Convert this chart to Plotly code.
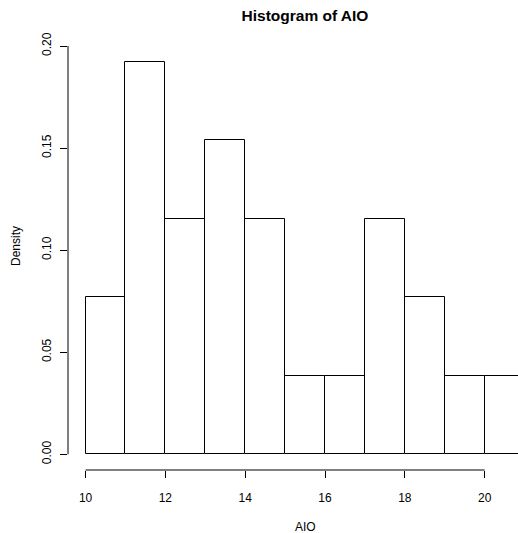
import plotly.graph_objects as go

# Data
breaks = [10, 11, 12, 13, 14, 15, 16, 17, 18, 19, 20, 21]
counts = [2, 5, 3, 4, 3, 1, 1, 3, 2, 1, 1]
n_total = sum(counts)
density = [c / (n_total * (breaks[i + 1] - breaks[i])) for i, c in enumerate(counts)]
mids = [(breaks[i] + breaks[i + 1]) / 2 for i in range(len(counts))]
widths = [breaks[i + 1] - breaks[i] for i in range(len(counts))]

x_ticks = [10, 12, 14, 16, 18, 20]
y_ticks = [0.00, 0.05, 0.10, 0.15, 0.20]

W, H = 518, 533
ml, mr, mt, mb = 68, 0, 46, 63

# R-style 4% extension of ranges
xr0 = breaks[0] - 0.04 * (breaks[-1] - breaks[0])
x_full_r = breaks[-1] + 0.04 * (breaks[-1] - breaks[0])
full_width_px = 542.5 - 68.4
unit_px = full_width_px / (x_full_r - xr0)
xr1 = xr0 + (W - ml - mr) / unit_px  # chart clipped at window edge

ymax_data = max(density)
yr0 = 0 - 0.04 * ymax_data
yr1 = ymax_data + 0.04 * ymax_data

font = "Liberation Sans, Arial, Helvetica, sans-serif"

fig = go.Figure()
fig.add_trace(go.Bar(
    x=mids, y=density, width=widths,
    marker=dict(color="white", line=dict(color="black", width=1)),
    showlegend=False, hoverinfo="skip",
))

def xp(v):
    return (v - xr0) / (xr1 - xr0)

def yp(v):
    return (v - yr0) / (yr1 - yr0)

shapes = [
    dict(type="line", xref="paper", yref="paper",
         x0=xp(x_ticks[0]), x1=xp(x_ticks[-1]), y0=0, y1=0,
         line=dict(color="black", width=1)),
    dict(type="line", xref="paper", yref="paper",
         x0=0, x1=0, y0=yp(y_ticks[0]), y1=yp(y_ticks[-1]),
         line=dict(color="black", width=1)),
]

fig.update_layout(
    width=W, height=H,
    margin=dict(l=ml, r=mr, t=mt, b=mb),
    paper_bgcolor="white", plot_bgcolor="white",
    bargap=0,
    font=dict(family=font, size=12, color="black"),
    shapes=shapes,
    title=dict(text="<b>Histogram of AIO</b>", font=dict(size=15.5, family=font, color="black"),
               xref="paper", x=(305 - ml) / (W - ml - mr), xanchor="center",
               yref="container", y=1 - 16 / H, yanchor="middle"),
    xaxis=dict(range=[xr0, xr1], showgrid=False, zeroline=False, showline=False,
               tickmode="array", tickvals=x_ticks, ticktext=[str(v) for v in x_ticks],
               ticks="outside", ticklen=7, tickwidth=1, tickcolor="black",
               ticklabelstandoff=10, tickfont=dict(size=12, color="black")),
    yaxis=dict(range=[yr0, yr1], showgrid=False, zeroline=False, showline=False,
               tickmode="array", tickvals=y_ticks, ticktext=[f"{v:.2f}" for v in y_ticks],
               ticks="outside", ticklen=7, tickwidth=1, tickcolor="black",
               tickangle=-90, ticklabelstandoff=4, tickfont=dict(size=12, color="black")),
    annotations=[
        dict(text="AIO", xref="paper", yref="paper",
             x=(305 - ml) / (W - ml - mr), y=-(527 - (H - mb)) / (H - mt - mb),
             xanchor="center", yanchor="middle", showarrow=False, font=dict(size=12)),
        dict(text="Density", xref="paper", yref="paper",
             x=-(ml - 16) / (W - ml - mr), y=1 - (246 - mt) / (H - mt - mb),
             xanchor="center", yanchor="middle", textangle=-90, showarrow=False,
             font=dict(size=12)),
    ],
)

fig.write_html("out.html")
